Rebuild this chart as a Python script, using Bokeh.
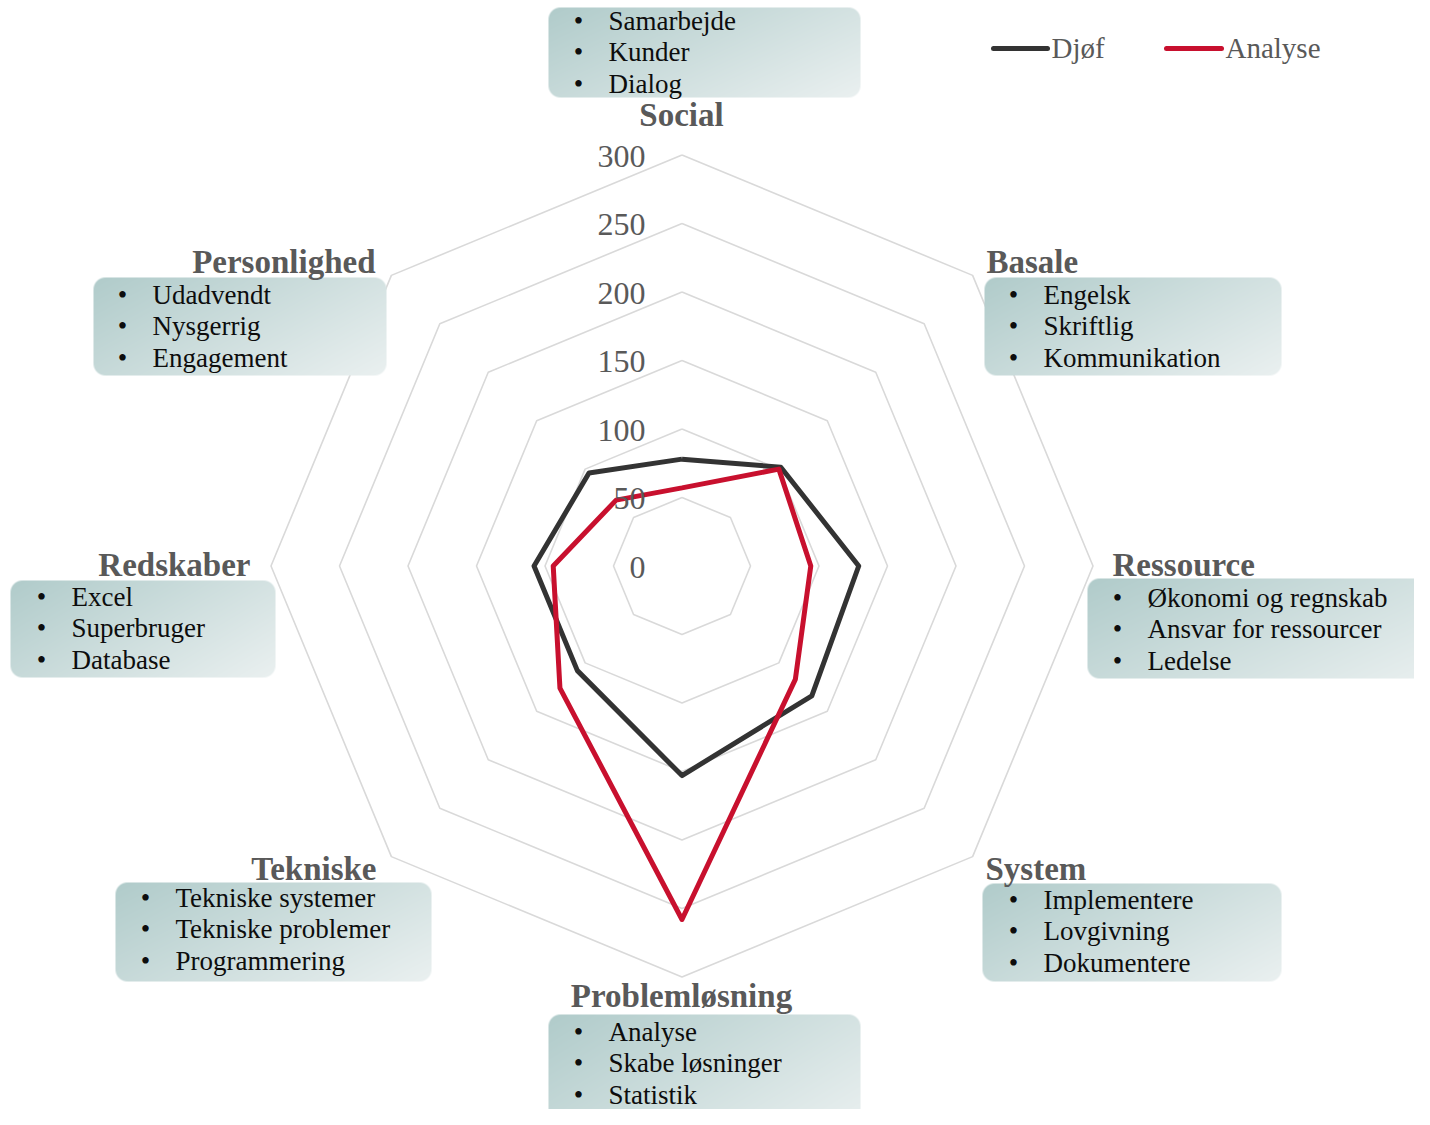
import numpy as np
from bokeh.plotting import figure
from bokeh.models import Range1d, ColumnDataSource
from bokeh.core.properties import value
from bokeh.embed import file_html
from bokeh.resources import INLINE

# ---------------- data ----------------
categories = ["Social", "Basale", "Ressource", "System",
              "Problemløsning", "Tekniske", "Redskaber", "Personlighed"]
djof_values = [78, 102, 129, 134, 153, 108, 108, 96]
analyse_values = [57, 100, 94, 117, 258, 126, 94, 68]
series_names = ["Djøf", "Analyse"]
series_colors = ["#333333", "#C8102E"]
ring_values = [0, 50, 100, 150, 200, 250, 300]
tick_labels = ["0", "50", "100", "150", "200", "250", "300"]
bullet_social = ["Samarbejde", "Kunder", "Dialog"]
bullet_basale = ["Engelsk", "Skriftlig", "Kommunikation"]
bullet_ressource = ["Økonomi og regnskab", "Ansvar for ressourcer", "Ledelse"]
bullet_system = ["Implementere", "Lovgivning", "Dokumentere"]
bullet_problem = ["Analyse", "Skabe løsninger", "Statistik"]
bullet_tekniske = ["Tekniske systemer", "Tekniske problemer", "Programmering"]
bullet_redskaber = ["Excel", "Superbruger", "Database"]
bullet_personlighed = ["Udadvendt", "Nysgerrig", "Engagement"]
bullets = [bullet_social, bullet_basale, bullet_ressource, bullet_system,
           bullet_problem, bullet_tekniske, bullet_redskaber, bullet_personlighed]

# ---------------- layout (screen pixels) ----------------
W, H = 1414, 1109
S = 411 / 300.0          # px per value unit
CX, CY = 681.5, 565.5    # radar centre on screen
TDY = -11                # baseline correction for rendered text (px)


def X(px):
    return (px - CX) / S


def Y(py):
    return (CY - py) / S


# box (left, top, right, bottom), label (x, baseline, align), text x, first baseline
layout = [
    ((548, 7, 860, 97), (681, 125, "center"), 608, 31),
    ((984, 277, 1281, 375), (986, 272, "left"), 1043, 305),
    ((1087, 578, 1445, 678), (1112, 575, "left"), 1147, 608),
    ((982, 883, 1281, 981), (985, 879, "left"), 1043, 910),
    ((548, 1014, 860, 1130), (681, 1006, "center"), 608, 1042),
    ((115, 882, 431, 981), (376, 879, "right"), 175, 908),
    ((10, 580, 275, 677), (250, 575, "right"), 71, 607),
    ((93, 277, 386, 375), (375, 272, "right"), 152, 305),
]
LINE_H = 31.7

FONT = value("Liberation Serif")

p = figure(width=W, height=H, output_backend="svg", toolbar_location=None,
           x_range=Range1d(X(0), X(W)), y_range=Range1d(Y(H), Y(0)),
           x_axis_location=None, y_axis_location=None, min_border=0,
           background_fill_color="white", border_fill_color="white")
p.outline_line_color = None
p.grid.visible = False

n = len(categories)
theta = np.pi / 2 - np.arange(n) * 2 * np.pi / n

# grid octagons
xs_grid, ys_grid = [], []
for r in ring_values[1:]:
    xs_grid.append(list(r * np.cos(theta)) + [r * np.cos(theta[0])])
    ys_grid.append(list(r * np.sin(theta)) + [r * np.sin(theta[0])])
p.multi_line(xs_grid, ys_grid, line_color="#D9D9D9", line_width=1.6)


# gradient boxes
def box_image(w, h, rad=12):
    yy, xx = np.mgrid[0:h, 0:w].astype(float) + 0.5
    t = 0.62 * xx / w + 0.38 * yy / h
    c0 = np.array([176, 203, 202], float)
    c1 = np.array([234, 240, 240], float)
    rgb = c0[None, None, :] + (c1 - c0)[None, None, :] * t[..., None]
    dx = np.maximum(np.maximum(rad - xx, xx - (w - rad)), 0)
    dy = np.maximum(np.maximum(rad - yy, yy - (h - rad)), 0)
    d = np.sqrt(dx ** 2 + dy ** 2)
    alpha = np.clip(rad - d + 0.5, 0, 1) * 255
    img = np.empty((h, w, 4), dtype=np.uint8)
    img[..., :3] = np.round(rgb).astype(np.uint8)
    img[..., 3] = alpha.astype(np.uint8)
    out = img.view(dtype=np.uint32).reshape((h, w))
    return out[::-1]


for (l, t, r, b), _, _, _ in layout:
    w, h = int(r - l), int(b - t)
    p.image_rgba(image=[box_image(w, h)], x=X(l), y=Y(b), dw=w / S, dh=h / S)

# bullet texts
bx, by, bt, dotx = [], [], [], []
for items, (_, _, tx, base0) in zip(bullets, layout):
    for k, item in enumerate(items):
        bx.append(X(tx))
        by.append(Y(base0 + k * LINE_H))
        bt.append(item)
        dotx.append(X(tx - 30))
p.text(x=bx, y=by, text=bt, text_font=FONT, text_font_size="27px",
       text_color="#0D0D0D", text_baseline="alphabetic", text_align="left", y_offset=TDY)
p.text(x=dotx, y=by, text=["•"] * len(bt), text_font=FONT, text_font_size="27px",
       text_color="#0D0D0D", text_baseline="alphabetic", text_align="center", y_offset=TDY)

# category labels
for cat, (_, (lx, lb, al), _, _) in zip(categories, layout):
    p.text(x=[X(lx)], y=[Y(lb)], text=[cat], text_font=FONT, text_font_size="33px",
           text_font_style="bold", text_color="#595959",
           text_baseline="alphabetic", text_align=al, y_offset=TDY)

# series
for name, vals, col in zip(series_names, [djof_values, analyse_values], series_colors):
    v = np.array(vals + vals[:1], float)
    th = np.concatenate([theta, theta[:1]])
    src = ColumnDataSource(dict(x=v * np.cos(th), y=v * np.sin(th)))
    p.line("x", "y", source=src, line_color=col, line_width=5, line_join="round")

# radial tick labels
p.text(x=[X(645)] * len(ring_values), y=ring_values, text=tick_labels,
       text_font=FONT, text_font_size="32px", text_color="#595959",
       text_align="right", text_baseline="alphabetic", y_offset=12 + TDY)

# legend
leg = [(993, 1047, 1051), (1166, 1221, 1225)]
for name, col, (x0, x1, tx) in zip(series_names, series_colors, leg):
    p.line([X(x0), X(x1)], [Y(48), Y(48)], line_color=col, line_width=5, line_cap="round")
    p.text(x=[X(tx)], y=[Y(58)], text=[name], text_font=FONT, text_font_size="29px",
           text_color="#595959", text_baseline="alphabetic", text_align="left", y_offset=TDY)

open("out.html", "w").write(file_html(p, INLINE))
